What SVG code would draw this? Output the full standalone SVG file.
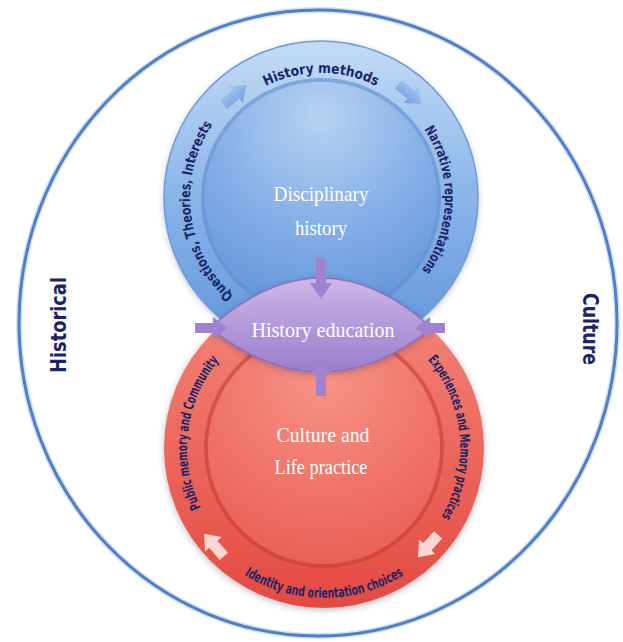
<svg xmlns="http://www.w3.org/2000/svg" width="623" height="642" viewBox="0 0 623 642">
<defs>
<linearGradient id="blueRing" x1="0" y1="0" x2="0" y2="1">
<stop offset="0" stop-color="#c4dbf5"/><stop offset="0.45" stop-color="#8fb8ea"/><stop offset="1" stop-color="#5d93da"/>
</linearGradient>
<radialGradient id="blueInner" cx="0.5" cy="0.15" r="0.95">
<stop offset="0" stop-color="#b8d2f2"/><stop offset="0.55" stop-color="#80abe6"/><stop offset="1" stop-color="#5b8fd7"/>
</radialGradient>
<linearGradient id="redRing" x1="0" y1="0" x2="0" y2="1">
<stop offset="0" stop-color="#f4867b"/><stop offset="1" stop-color="#e44a40"/>
</linearGradient>
<radialGradient id="redInner" cx="0.5" cy="0.2" r="0.9">
<stop offset="0" stop-color="#f89286"/><stop offset="1" stop-color="#e85a50"/>
</radialGradient>
<linearGradient id="lens" x1="0" y1="0" x2="0" y2="1">
<stop offset="0" stop-color="#cdb8e8"/><stop offset="1" stop-color="#9a7dcb"/>
</linearGradient>
<linearGradient id="blueArrow" x1="0" y1="0" x2="0" y2="1">
<stop offset="0" stop-color="#a9c9f0"/><stop offset="1" stop-color="#6f9fe0"/>
</linearGradient>
<filter id="shadow" x="-20%" y="-20%" width="140%" height="140%">
<feGaussianBlur in="SourceAlpha" stdDeviation="3"/>
<feOffset dx="0" dy="2" result="b"/>
<feFlood flood-color="#304060" flood-opacity="0.35"/>
<feComposite in2="b" operator="in"/>
<feMerge><feMergeNode/><feMergeNode in="SourceGraphic"/></feMerge>
</filter>
<path id="arrowShape" d="M-15,-5.5 L1,-5.5 L1,-11 L15,0 L1,11 L1,5.5 L-15,5.5 Z"/>
<path id="pTop" d="M197.9,176.3 A125,125 0 0 1 444.1,176.3"/>
<path id="pLeftB" d="M314.1,328.8 A131,131 0 0 1 282.7,72.7"/>
<path id="pRightB" d="M344.7,76.3 A124,124 0 0 1 340.4,320.5"/>
<path id="pLeftR" d="M283.9,579.0 A137,137 0 0 1 316.8,311.2"/>
<path id="pRightR" d="M335.9,312.5 A136,136 0 0 1 359.2,579.4"/>
<path id="pBottom" d="M176.3,474 A150,150 0 0 0 471.7,474"/>
</defs>
<style>
.ring{font-family:"DejaVu Sans Condensed","Liberation Sans",sans-serif;font-weight:bold;font-size:14px;fill:#1b2466}
.title{font-family:"Liberation Serif",serif;font-size:22px;fill:#ffffff;text-anchor:middle}
.side{font-family:"DejaVu Sans Condensed","Liberation Sans",sans-serif;font-weight:bold;font-size:21px;fill:#1b2466;text-anchor:middle}
.lensArrow{fill:#a083d0}
</style>
<rect width="623" height="642" fill="#ffffff"/>
<g id="outer">
<ellipse cx="318" cy="323" rx="299" ry="313" fill="none" stroke="#a9c3e8" stroke-width="6" opacity="0.5"/>
<ellipse cx="318" cy="323" rx="299" ry="313" fill="none" stroke="#4d80c6" stroke-width="3"/>
<text class="side" transform="translate(66,325) rotate(-90)" textLength="96" lengthAdjust="spacingAndGlyphs">Historical</text>
<text class="side" transform="translate(583,329) rotate(90)" textLength="72" lengthAdjust="spacingAndGlyphs">Culture</text>
</g>
<g id="disciplinary">
<circle cx="321" cy="198" r="157" fill="url(#blueRing)" filter="url(#shadow)"/>
<circle cx="321" cy="198" r="157" fill="none" stroke="#6b9bdc" stroke-width="1.5"/>
<circle cx="321" cy="198" r="118" fill="none" stroke="#5a8ad0" stroke-width="4" opacity="0.6"/>
<circle cx="321" cy="198" r="116" fill="url(#blueInner)"/>
<text class="title" x="321" y="201" textLength="95" lengthAdjust="spacingAndGlyphs">Disciplinary</text>
<text class="title" x="321" y="235" textLength="52" lengthAdjust="spacingAndGlyphs">history</text>
<text class="ring"><textPath href="#pTop" startOffset="50%" text-anchor="middle" textLength="115" lengthAdjust="spacingAndGlyphs">History methods</textPath></text>
<text class="ring"><textPath href="#pLeftB" startOffset="50%" text-anchor="middle" textLength="188" lengthAdjust="spacingAndGlyphs">Questions, Theories, Interests</textPath></text>
<text class="ring"><textPath href="#pRightB" startOffset="50%" text-anchor="middle" textLength="150" lengthAdjust="spacingAndGlyphs">Narrative representations</textPath></text>
<use href="#arrowShape" fill="url(#blueArrow)" transform="translate(235,95) rotate(-40)"/>
<use href="#arrowShape" fill="url(#blueArrow)" transform="translate(410,94) rotate(40)"/>
</g>
<g id="culture">
<circle cx="324" cy="448" r="160" fill="url(#redRing)" filter="url(#shadow)"/>
<circle cx="324" cy="448" r="118" fill="none" stroke="#c63d36" stroke-width="4" opacity="0.6"/>
<circle cx="324" cy="448" r="116" fill="url(#redInner)"/>
<text class="title" x="323" y="442" textLength="93" lengthAdjust="spacingAndGlyphs">Culture and</text>
<text class="title" x="321" y="474" textLength="93" lengthAdjust="spacingAndGlyphs">Life practice</text>
<text class="ring"><textPath href="#pLeftR" startOffset="50%" text-anchor="middle" textLength="157" lengthAdjust="spacingAndGlyphs">Public memory and Community</textPath></text>
<text class="ring"><textPath href="#pRightR" startOffset="50%" text-anchor="middle" textLength="168" lengthAdjust="spacingAndGlyphs">Experiences and Memory practices</textPath></text>
<text class="ring"><textPath href="#pBottom" startOffset="50%" text-anchor="middle" textLength="168" lengthAdjust="spacingAndGlyphs">Identity and orientation choices</textPath></text>
<use href="#arrowShape" fill="#fbd8d3" transform="translate(214,545) rotate(229)"/>
<use href="#arrowShape" fill="#fbd8d3" transform="translate(428,546) rotate(132)"/>
</g>
<g id="education">
<path d="M210,328 Q321,228 432,328 Q321,416 210,328 Z" fill="url(#lens)" stroke="#8c6ec0" stroke-width="1.5" filter="url(#shadow)"/>
<text class="title" x="323" y="337" textLength="143" lengthAdjust="spacingAndGlyphs">History education</text>
</g>
<g id="connectors">
<path class="lensArrow" d="M316,258 L326,258 L326,283 L332,283 L321,299 L310,283 L316,283 Z"/>
<path class="lensArrow" d="M316,396 L326,396 L326,374 L332,374 L321,359 L310,374 L316,374 Z"/>
<path class="lensArrow" d="M195,323 L213,323 L213,317 L228,328 L213,339 L213,333 L195,333 Z"/>
<path class="lensArrow" d="M445,323 L430,323 L430,317 L415,328 L430,339 L430,333 L445,333 Z"/>
</g>
</svg>
